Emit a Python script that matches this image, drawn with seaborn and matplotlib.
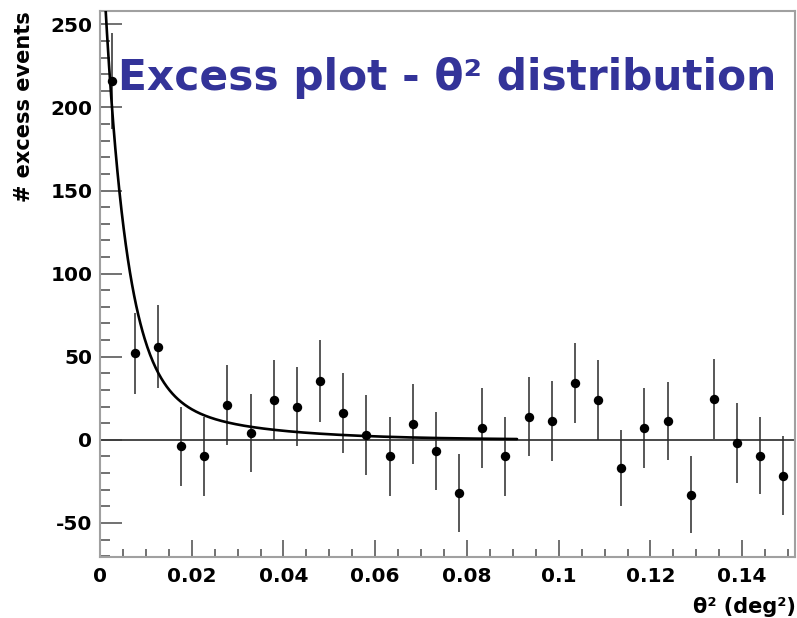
import numpy as np
import pandas as pd
import matplotlib
matplotlib.use("Agg")
import matplotlib.pyplot as plt
from matplotlib.ticker import MultipleLocator, FuncFormatter
import seaborn as sns

# theta^2 bin centres (30 bins of width 0.00505 deg^2)
theta2_centers = [0.002525, 0.007575, 0.012625, 0.017675, 0.022725, 0.027775,
                  0.032825, 0.037875, 0.042925, 0.047975, 0.053025, 0.058075,
                  0.063125, 0.068175, 0.073225, 0.078275, 0.083325, 0.088375,
                  0.093425, 0.098475, 0.103525, 0.108575, 0.113625, 0.118675,
                  0.123725, 0.128775, 0.133825, 0.138875, 0.143925, 0.148975]

# excess events per bin and their statistical errors
excess = [216, 52, 56, -4, -10, 21, 4, 24, 20, 35.5, 16, 3, -10, 9.5, -6.5,
          -32, 7, -10, 14, 11.5, 34, 24, -17, 7, 11.5, -33, 24.5, -2, -9.5, -21.5]
excess_err = [29, 24.5, 25, 23.5, 24, 24, 23.5, 24, 24, 24.5, 24, 24, 24, 24,
              23.5, 23.5, 24, 24, 24, 24, 24, 24, 23, 24, 23.5, 23, 24, 24, 23, 23.5]

# fitted PSF model: sum of two exponentials in theta^2, fitted over [0, 0.0909]
fit_amp = [290.0, 36.0]
fit_scale = [0.0048, 0.021]
fit_range = [0.0, 0.0909]

x_limits = [0.0, 0.1515]
y_limits = [-70.5, 258.0]

sns.set_theme(style="ticks")
plt.rcParams["font.family"] = ["DejaVu Sans"]
plt.rcParams["text.color"] = "black"
plt.rcParams["axes.labelcolor"] = "black"
plt.rcParams["xtick.labelcolor"] = "black"
plt.rcParams["ytick.labelcolor"] = "black"

fig = plt.figure(figsize=(7.97, 6.18), dpi=100)
ax = fig.add_axes([100 / 797, 1 - 557 / 618, 695 / 797, 546 / 618])

df = pd.DataFrame({"theta2": theta2_centers, "excess": excess, "err": excess_err})

# fit curve
xf = np.linspace(fit_range[0], fit_range[1], 600)
yf = sum(a * np.exp(-xf / s) for a, s in zip(fit_amp, fit_scale))
fit_df = pd.DataFrame({"theta2": xf, "fit": yf})

ax.axhline(0, color="#3a3a3a", lw=1.3, zorder=1)
ax.errorbar(df["theta2"], df["excess"], yerr=df["err"], fmt="none",
            ecolor="#2a2a2a", elinewidth=1.1, capsize=0, zorder=2)
sns.lineplot(data=fit_df, x="theta2", y="fit", ax=ax, color="black",
             lw=1.9, zorder=3, legend=False)
sns.scatterplot(data=df, x="theta2", y="excess", ax=ax, color="black",
                s=46, edgecolor="black", linewidth=0, zorder=4, legend=False)

ax.set_xlim(*x_limits)
ax.set_ylim(*y_limits)
ax.set_xlabel("")
ax.set_ylabel("")

ax.xaxis.set_major_locator(MultipleLocator(0.02))
ax.xaxis.set_minor_locator(MultipleLocator(0.005))
ax.yaxis.set_major_locator(MultipleLocator(50))
ax.yaxis.set_minor_locator(MultipleLocator(10))
ax.xaxis.set_major_formatter(FuncFormatter(lambda v, p: f"{v:g}"))
ax.yaxis.set_major_formatter(FuncFormatter(lambda v, p: f"{v:g}"))

ax.tick_params(axis="both", which="both", direction="in", color="#4a4a4a",
               width=1.1, top=False, right=False, labelcolor="black")
ax.tick_params(axis="y", which="major", length=15.6, pad=5.5)
ax.tick_params(axis="y", which="minor", length=7.2)
ax.tick_params(axis="x", which="major", length=12.2, pad=7)
ax.tick_params(axis="x", which="minor", length=5.8)
for lab in ax.get_xticklabels() + ax.get_yticklabels():
    lab.set_fontsize(14.5)
    lab.set_fontweight("bold")
    lab.set_color("black")

for sp in ax.spines.values():
    sp.set_color("#a0a0a0")
    sp.set_linewidth(1.5)
    sp.set_visible(True)

fig.text(24 / 797, 1 - 107 / 618, "# excess events", rotation=90,
         ha="center", va="center", fontsize=15, fontweight="bold", color="black")
fig.text(0.999, 1 - 613 / 618, "θ² (deg²)", ha="right", va="baseline",
         fontsize=15, fontweight="bold", color="black")
fig.text(118 / 797, 1 - 90 / 618, "Excess plot - θ² distribution",
         ha="left", va="baseline", fontsize=30.5, fontweight="bold",
         color="#333399")

fig.savefig("out.png", dpi=100, facecolor="white")
